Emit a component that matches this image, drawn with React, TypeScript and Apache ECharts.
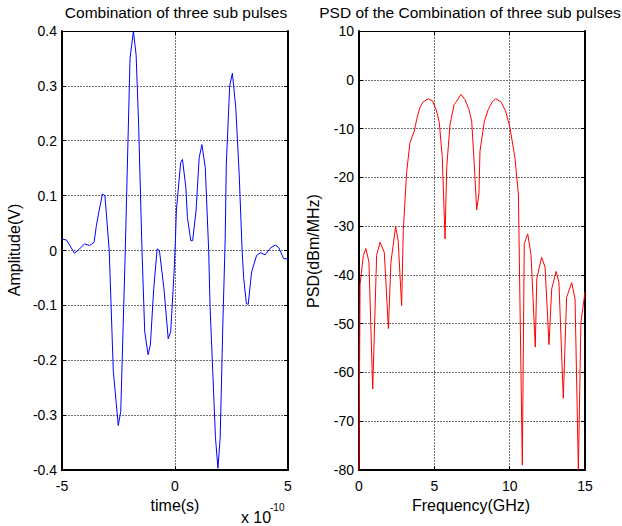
import React, { useEffect, useRef } from "react";
import * as echarts from "echarts";

// Time axis in units of 1e-10 s
const timeX = [
  -5.0, -4.97, -4.8, -4.65, -4.45, -4.3, -4.0, -3.78, -3.58, -3.48, -3.36, -3.21, -3.1, -2.91,
  -2.73, -2.51, -2.4, -2.2, -1.99, -1.84, -1.72, -1.61, -1.46, -1.34, -1.19, -1.09, -0.94,
  -0.79, -0.69, -0.49, -0.3, -0.19, -0.04, 0.02, 0.06, 0.25, 0.33, 0.48, 0.55, 0.7, 0.78,
  0.93, 1.07, 1.19, 1.34, 1.49, 1.55, 1.67, 1.79, 1.9, 2.0, 2.12, 2.22, 2.27, 2.42, 2.54,
  2.69, 2.84, 2.97, 3.04, 3.16, 3.24, 3.39, 3.61, 3.79, 3.99, 4.21, 4.43, 4.58, 4.81, 5.0,
];
const amplitude = [
  0.021, 0.021, 0.019, 0.009, -0.005, 0.0, 0.012, 0.009, 0.015, 0.045, 0.072, 0.103, 0.1, 0.0,
  -0.22, -0.319, -0.293, 0.0, 0.35, 0.4, 0.356, 0.23, 0.0, -0.148, -0.19, -0.172, -0.069,
  0.003, 0.0, -0.069, -0.161, -0.148, -0.039, 0.02, 0.072, 0.16, 0.166, 0.115, 0.06, 0.018, 0.018,
  0.072, 0.169, 0.193, 0.151, 0.0, -0.1, -0.22, -0.341, -0.397, -0.34, -0.13, 0.02, 0.157, 0.3, 0.323,
  0.26, 0.139, 0.0, -0.051, -0.097, -0.098, -0.039, -0.009, -0.004, -0.008, 0.004, 0.01, 0.006, -0.015, -0.015,
];

const freqGHz = [
  0, 0.07, 0.29, 0.46, 0.66, 0.91, 1.17, 1.4, 1.68, 1.95, 2.12, 2.43, 2.6, 2.83, 2.94, 3.16,
  3.38, 3.67, 3.83, 4.05, 4.27, 4.6, 4.87, 5.15, 5.33, 5.53, 5.71, 5.82, 6.04, 6.31, 6.48,
  6.77, 7.04, 7.3, 7.48, 7.65, 7.81, 7.96, 8.03, 8.32, 8.58, 8.85, 9.07, 9.42, 9.73, 10.02,
  10.35, 10.58, 10.84, 10.97, 11.2, 11.42, 11.7, 11.8, 12.12, 12.35, 12.61, 12.79, 13.08, 13.27,
  13.56, 13.78, 14.12, 14.34, 14.56, 14.73, 15.0,
];
const psd = [
  -80, -42, -36, -34.6, -37.4, -63.4, -36, -33.3, -35.4, -51, -37.4, -30.1, -33, -46.3, -30.9, -19,
  -12.9, -10.5, -8.1, -5.6, -4.5, -3.9, -4.3, -6.4, -8.8, -16, -32.6, -18, -9.2, -5.1, -4.4,
  -3.0, -4.1, -6.1, -8.5, -17.3, -26.7, -23.4, -14.6, -8.5, -6.1, -4.5, -3.9, -4.5, -6.4, -9.8,
  -16, -23.4, -79, -33.6, -31.6, -36, -54.8, -40.8, -36.4, -38.4, -54.3, -42.9, -39.3, -41.5,
  -65.3, -44.6, -41.6, -44.9, -80, -49.7, -43.5,
];

const titles = ["Combination of three sub pulses", "PSD of the Combination of three sub pulses"];
const yNames = ["Amplitude(V)", "PSD(dBm/MHz)"];
const xNames = ["time(s)", "Frequency(GHz)"];

const FONT = "'Liberation Sans', Arial, sans-serif";

function fmt(v: number) {
  const s = parseFloat(v.toFixed(1)).toString();
  return s === "-0" ? "0" : s;
}

export default function App() {
  const ref = useRef<HTMLDivElement>(null);
  useEffect(() => {
    document.body.style.margin = "0";
    if (!ref.current) return;
    const chart = echarts.init(ref.current, undefined, { renderer: "svg" });
    const grids = [
      { left: 62, right: 334, top: 31, bottom: 56 },
      { left: 359, right: 37, top: 31, bottom: 56 },
    ];
    const lineStyle = { color: "#000", width: 2 };
    const tick = { show: true, inside: true, length: 4, lineStyle: { color: "#000", width: 1 } };
    const split = { show: true, lineStyle: { color: "#707070", type: [2, 1] as any, width: 1 } };
    const label = { color: "#000", fontSize: 14, fontFamily: FONT };
    const xr = [
      { min: -5, max: 5, interval: 5 },
      { min: 0, max: 15, interval: 5 },
    ];
    const yr = [
      { min: -0.4, max: 0.4, interval: 0.1 },
      { min: -80, max: 10, interval: 10 },
    ];
    const xAxis: any[] = [];
    const yAxis: any[] = [];
    for (let i = 0; i < 2; i++) {
      xAxis.push({
        type: "value", gridIndex: i, position: "bottom", ...xr[i],
        axisLine: { show: true, onZero: false, lineStyle },
        axisTick: tick, splitLine: split,
        axisLabel: { ...label, margin: 9, formatter: (v: number) => fmt(v) },
      });
      xAxis.push({
        type: "value", gridIndex: i, position: "top", ...xr[i],
        axisLine: { show: true, onZero: false, lineStyle: { color: "#000", width: 1 } },
        axisTick: tick, splitLine: { show: false }, axisLabel: { show: false },
      });
      yAxis.push({
        type: "value", gridIndex: i, position: "left", ...yr[i],
        axisLine: { show: true, onZero: false, lineStyle },
        axisTick: tick, splitLine: split,
        axisLabel: { ...label, margin: 5, formatter: (v: number) => fmt(v) },
      });
      yAxis.push({
        type: "value", gridIndex: i, position: "right", ...yr[i],
        axisLine: { show: true, onZero: false, lineStyle },
        axisTick: tick, splitLine: { show: false }, axisLabel: { show: false },
      });
    }
    const text = (x: number, y: number, t: string, size: number, extra: any = {}) => ({
      type: "text", x, y,
      style: { text: t, fill: "#000", font: `${size}px ${FONT}`, align: "center", verticalAlign: "middle", ...extra.style },
      ...(extra.rotation !== undefined ? { rotation: extra.rotation } : {}),
    });
    chart.setOption({
      animation: false,
      backgroundColor: "#fff",
      grid: grids,
      xAxis,
      yAxis,
      series: [
        {
          type: "line", xAxisIndex: 0, yAxisIndex: 0, showSymbol: false, symbol: "none",
          data: timeX.map((t, k) => [t, amplitude[k]]),
          lineStyle: { color: "#0000ff", width: 1 }, clip: true,
        },
        {
          type: "line", xAxisIndex: 2, yAxisIndex: 2, showSymbol: false, symbol: "none",
          data: freqGHz.map((f, k) => [f, psd[k]]),
          lineStyle: { color: "#ff0000", width: 1 }, clip: true,
        },
      ],
      graphic: [
        text(176, 12, titles[0], 15.5),
        text(470, 12, titles[1], 15.5),
        text(175, 505, xNames[0], 16),
        text(471, 505, xNames[1], 16),
        text(14, 250, yNames[0], 16, { rotation: Math.PI / 2 }),
        text(313, 251, yNames[1], 16, { rotation: Math.PI / 2 }),
        text(256, 517, "x 10", 16),
        text(270, 507, "-10", 10, { style: { align: "left" } }),
      ],
    });
    return () => chart.dispose();
  }, []);
  return <div ref={ref} style={{ width: 622, height: 526 }} />;
}
